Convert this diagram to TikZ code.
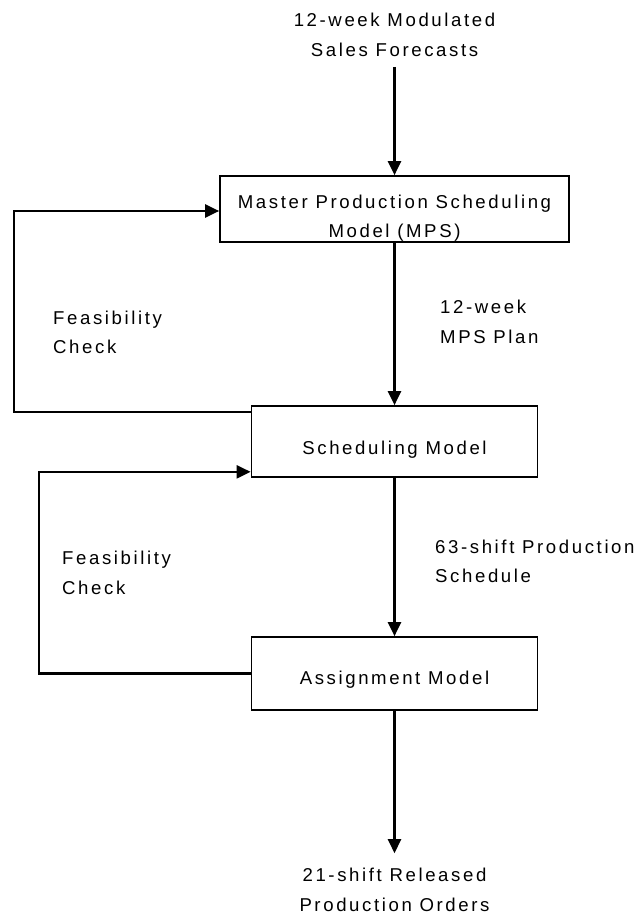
\documentclass[tikz,border=0pt]{standalone}
\usepackage{fontspec}
\setmainfont{Liberation Sans}[LetterSpace=14]
\usetikzlibrary{arrows.meta}

\tikzset{
  every node/.style={font=\fontsize{18.6}{29.5}\selectfont, inner sep=0pt},
  modelbox/.style={draw, line width=1.7pt, align=center, text depth=0pt},
  flowtext/.style={align=center},
  sidetext/.style={align=left, anchor=west},
  flow/.style={line width=2.2pt, -{Triangle[width=13pt,length=14pt]}},
  loopline/.style={line width=2.2pt, -{Triangle[width=13pt,length=14pt]}}
}

\begin{document}
\begin{tikzpicture}[x=1pt, y=-1pt]
  \useasboundingbox (0,0) rectangle (639,920);

  % inputs and outputs
  \node[flowtext] (src) at (394.5,35) {12-week Modulated\\Sales Forecasts};
  \node[flowtext] (out) at (394.5,890) {21-shift Released\\Production Orders};

  % the three models
  \node[modelbox, text height=57.6pt, minimum width=349pt, minimum height=66pt] (mps) at (394.5,209)
    {Master Production Scheduling\\Model (MPS)};
  \node[modelbox, text height=25.6pt, minimum width=286pt, minimum height=71pt] (sched) at (394.5,441.5)
    {Scheduling Model};
  \node[modelbox, text height=21.6pt, minimum width=286pt, minimum height=73pt] (assign) at (394.5,673.5)
    {Assignment Model};

  % corners of the feedback loops
  \coordinate (l1) at (14,300);
  \coordinate (l2) at (39,560);

  % main flow
  \draw[flow] ([yshift=-10pt]src.south) -- (mps.north);
  \draw[flow] (mps.south) -- (sched.north);
  \draw[flow] (sched.south) -- (assign.north);
  \draw[flow] (assign.south) -- ([yshift=15pt]out.north);

  % feasibility feedback
  \draw[loopline] ([yshift=-7pt]sched.north west) -| (l1) |- ([yshift=-2pt]mps.west);
  \draw[loopline] (assign.west) -| (l2) |- ([yshift=6pt]sched.south west);

  % flow labels
  \node[sidetext] (f1) at (53,332.5) {Feasibility\\Check};
  \node[sidetext] (f2) at (62,573) {Feasibility\\Check};
  \node[sidetext] (plan) at (440,322) {12-week\\MPS Plan};
  \node[sidetext] (shift) at (435,561.5) {63-shift Production\\Schedule};
\end{tikzpicture}
\end{document}
